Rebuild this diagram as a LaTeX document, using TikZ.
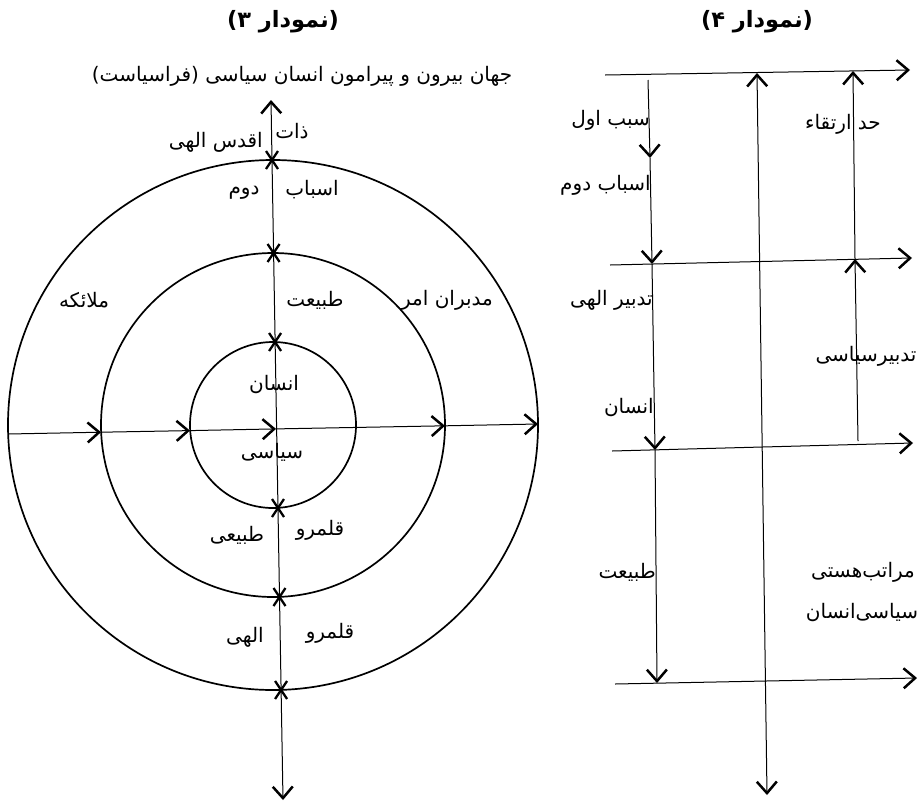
\documentclass[tikz,border=0pt]{standalone}
\usepackage{fontspec}
\usetikzlibrary{arrows.meta}
\TeXXeTstate=1
\newfontfamily\fafont[Script=Arabic]{DejaVu Sans}
\tikzset{
  lbl/.style={font=\fafont\fontsize{20}{24}\selectfont, inner sep=0pt},
  ttl/.style={font=\fafont\bfseries\fontsize{22.5}{27}\selectfont, inner sep=0pt},
  axis/.style={line width=1pt},
  circ/.style={line width=1.7pt},
  tipshape/.style={},
  arr/.style={-{Straight Barb[length=11.5pt,width=20pt,line width=2.5pt]}},
  darr/.style={{Straight Barb[length=11.5pt,width=20pt,line width=2.5pt]}-{Straight Barb[length=11.5pt,width=20pt,line width=2.5pt]}},
  xmark/.style={line width=2.3pt},
}
\newcommand\xm[1]{\draw[xmark] (#1) ++(-6,-9) -- ++(12,18); \draw[xmark] (#1) ++(6,-9) -- ++(-12,18);}
\begin{document}
\begin{tikzpicture}[x=1pt,y=-1pt]
\fill[white] (0,0) rectangle (923,801);
\useasboundingbox (0,0) rectangle (923,801);

% ---------- Diagram 3 ----------
\coordinate (C) at (273,425);
\draw[circ] (C) circle [radius=265];
\draw[circ] (C) circle [radius=172];
\draw[circ] (C) circle [radius=83];

% vertical axis
\coordinate (vtop) at (271,100);
\coordinate (vo1) at (272,160);
\coordinate (vm1) at (273.6,253);
\coordinate (vi1) at (275.1,342);
\coordinate (vi2) at (278,508);
\coordinate (vm2) at (279.5,597);
\coordinate (vo2) at (281.1,690);
\coordinate (vbot) at (283,800);
\draw[axis,arr] (vo1) -- (vtop);
\draw[axis] (vo1) -- (vo2);
\draw[axis,arr] (vo2) -- (vbot);
\xm{vo1}\xm{vm1}\xm{vi1}\xm{vi2}\xm{vm2}\xm{vo2}

% horizontal axis
\coordinate (h0) at (8,434);
\coordinate (h1) at (101,432.2);
\coordinate (h2) at (190,430.6);
\coordinate (hc) at (276,428.9);
\coordinate (h4) at (445,425.8);
\coordinate (h5) at (538,424);
\draw[axis,arr] (h0) -- (h1);
\draw[axis,arr] (h1) -- (h2);
\draw[axis,arr] (h2) -- (hc);
\draw[axis,arr] (hc) -- (h4);
\draw[axis,arr] (h4) -- (h5);

\node[ttl] (t3) at (283,22) {\beginR(نمودار ۳)\endR};
\node[lbl] (top) at (302,76) {\beginR جهان بیرون و پیرامون انسان سیاسی (فراسیاست)\endR};
\node[lbl] (zat) at (292,131) {\beginR ذات\endR};
\node[lbl,anchor=east] (aqdas) at (263,142) {\beginR اقدس الهی\endR};
\node[lbl] (asbab) at (312,190) {\beginR اسباب\endR};
\node[lbl] (dovom) at (244,193) {\beginR دوم\endR};
\node[lbl] (malaeke) at (84,300) {\beginR ملائکه\endR};
\node[lbl] (tabiat) at (315,300) {\beginR طبیعت\endR};
\node[lbl] (modabb) at (447,300) {\beginR مدبران امر\endR};
\node[lbl] (ensan) at (274,385) {\beginR انسان\endR};
\node[lbl] (siasi) at (272,452) {\beginR سیاسی\endR};
\node[lbl] (qalam1) at (320,530) {\beginR قلمرو\endR};
\node[lbl] (tabii) at (237,535) {\beginR طبیعی\endR};
\node[lbl] (qalam2) at (330,633) {\beginR قلمرو\endR};
\node[lbl] (elahi) at (245,637) {\beginR الهی\endR};

% ---------- Diagram 4 ----------
\coordinate (a1) at (605,75);  \coordinate (a2) at (910,70);
\coordinate (b1) at (610,265); \coordinate (b2) at (912,258);
\coordinate (c1) at (612,451); \coordinate (c2) at (913,443);
\coordinate (d1) at (615,684); \coordinate (d2) at (917,678);
\draw[axis,arr] (a1) -- (a2);
\draw[axis,arr] (b1) -- (b2);
\draw[axis,arr] (c1) -- (c2);
\draw[axis,arr] (d1) -- (d2);

% left vertical
\coordinate (l0) at (648,80);
\coordinate (l1) at (650,158);
\coordinate (l2) at (652,264);
\coordinate (l3) at (655,450);
\coordinate (l4) at (657,683);
\draw[axis,arr] (l0) -- (l1);
\draw[axis,arr] (l1) -- (l2);
\draw[axis,arr] (l2) -- (l3);
\draw[axis,arr] (l3) -- (l4);

% middle vertical
\coordinate (m0) at (757,73);
\coordinate (m1) at (767,795);
\draw[axis,darr] (m0) -- (m1);

% right vertical
\coordinate (r0) at (858,441);
\coordinate (r1) at (855,259);
\coordinate (r2) at (853,71);
\draw[axis,arr] (r0) -- (r1);
\draw[axis,arr] (r1) -- (r2);

\node[ttl] (t4) at (757,22) {\beginR(نمودار ۴)\endR};
\node[lbl] (had) at (843,124) {\beginR حد ارتقاء\endR};
\node[lbl,anchor=east] (sabab) at (650,120) {\beginR سبب اول\endR};
\node[lbl,anchor=east] (asbab2) at (651,185) {\beginR اسباب دوم\endR};
\node[lbl,anchor=east] (tadbir1) at (653,300) {\beginR تدبیر الهی\endR};
\node[lbl] (tadbir2) at (866,356) {\beginR تدبیرسیاسی\endR};
\node[lbl,anchor=east] (ensan2) at (654,408) {\beginR انسان\endR};
\node[lbl,anchor=east] (tabiat2) at (656,572) {\beginR طبیعت\endR};
\node[lbl] (marateb) at (863,572) {\beginR مراتب‌هستی\endR};
\node[lbl] (siasi2) at (862,613) {\beginR سیاسی‌انسان\endR};
\end{tikzpicture}
\end{document}
